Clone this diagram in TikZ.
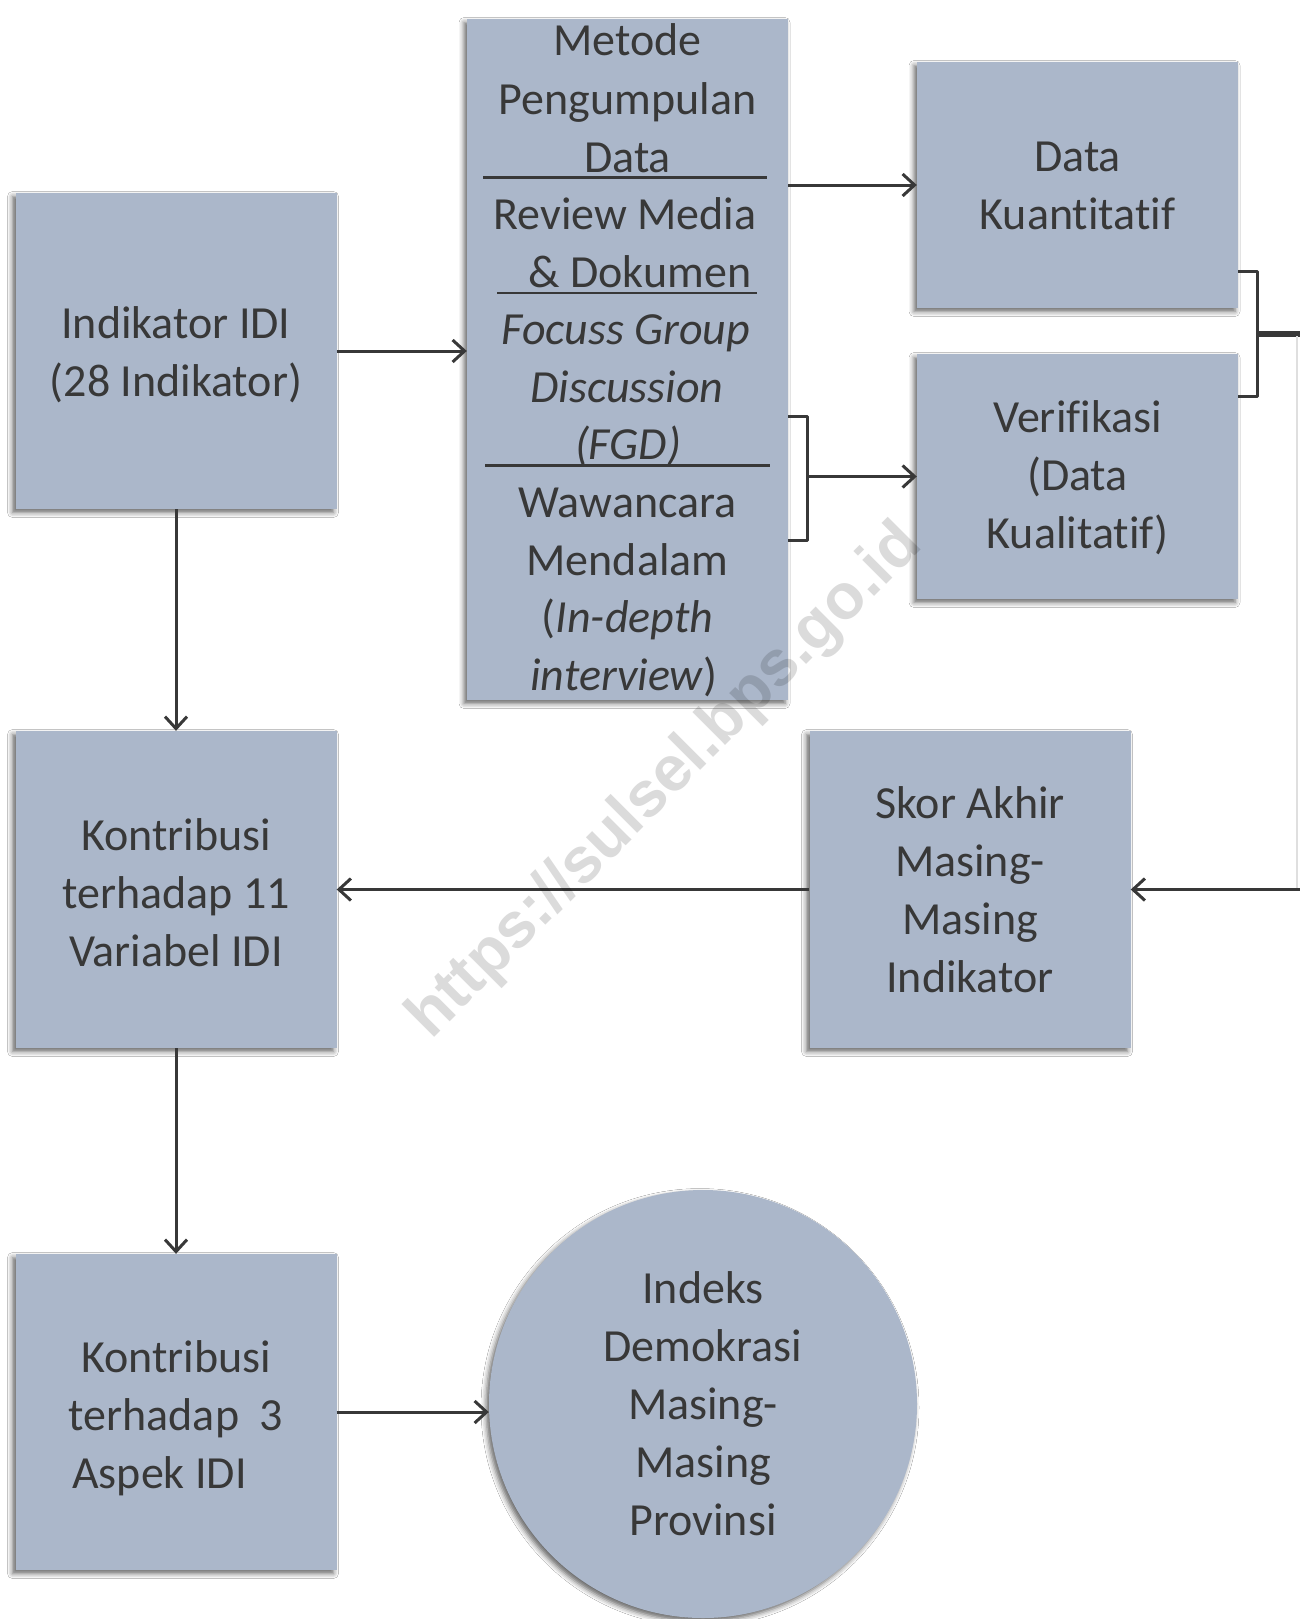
\documentclass[tikz,border=0pt]{standalone}
\usepackage{fontspec}
\setmainfont[Ligatures=NoCommon]{Carlito}
\newfontfamily\wmfont{Liberation Sans}
\usetikzlibrary{arrows.meta,shadows.blur}
\definecolor{boxfill}{HTML}{ABB7CA}
\definecolor{ink}{HTML}{383838}
\begin{document}
\begin{tikzpicture}[x=1pt,y=-1pt,
  shd/.style={blur shadow={shadow xshift=-3pt, shadow yshift=-3.5pt, shadow blur radius=5pt, shadow opacity=60}},
  box/.style={shd, fill=boxfill, draw=none, minimum width=321pt, inner sep=0pt,
    align=center, text=ink, font=\fontsize{46}{58}\selectfont},
  txt/.style={anchor=base, inner sep=0pt, text=ink, font=\fontsize{46}{58}\selectfont},
  lbl/.style={inner sep=0pt, align=center, text=ink, font=\fontsize{46}{58}\selectfont},
  conn/.style={draw=ink, line width=3pt, -{Straight Barb[length=12pt,width=22pt]}},
  plain/.style={draw=ink, line width=3pt},
  sep/.style={draw=ink, line width=2.5pt}]
\useasboundingbox[fill=white] (0,0) rectangle (1300,1619);

% boxes
\node[box, minimum height=316pt] (ind) at (176,351) {};
\node[box, minimum height=681pt] (met) at (627.5,359.5) {};
\node[box, minimum height=246pt] (dk) at (1077.5,185) {};
\node[box, minimum height=245pt] (ver) at (1077.5,476.5) {};
\node[box, minimum height=317pt] (skor) at (970,889.5) {};
\node[box, minimum height=317pt] (k11) at (176,889.5) {};
\node[box, minimum height=316pt] (k3) at (176,1412) {};
\node[shd, circle, fill=boxfill, minimum size=428pt, inner sep=0pt] (idx) at (703,1404) {};

% box labels
\node[lbl] (indt) at ([yshift=-4pt]ind.center) {Indikator IDI\\(28 Indikator)};
\node[lbl] (dkt) at ([yshift=-1pt]dk.center) {Data\\Kuantitatif};
\node[lbl] (vert) at ([yshift=-1pt]ver.center) {Verifikasi\\(Data\\Kualitatif)};
\node[lbl] (skort) at (skor.center) {Skor Akhir\\Masing-\\Masing\\Indikator};
\node[lbl] (k11t) at ([yshift=-3pt]k11.center) {Kontribusi\\terhadap 11\\Variabel IDI};
\node[lbl] (k3t) at ([yshift=-6pt]k3.center) {Kontribusi\\terhadap\ \ 3\\Aspek IDI\rule{33pt}{0pt}};
\node[lbl] (idxt) at (idx.center) {Indeks\\Demokrasi\\Masing-\\Masing\\Provinsi};

% text inside Metode box
\node[txt] (m1) at (627.5,56) {Metode};
\node[txt] (m2) at (627.5,114) {Pengumpulan};
\node[txt] (m3) at (627.5,172) {Data};
\node[txt] (m4) at (625,229) {Review Media};
\node[txt] (m5) at (640,287) {\& Dokumen};
\node[txt] (m6) at (626,344) {\itshape Focuss Group};
\node[txt] (m7) at (627,402) {\itshape Discussion};
\node[txt] (m8) at (628,459) {\itshape (FGD)};
\node[txt] (m9) at (627.5,517) {Wawancara};
\node[txt] (m10) at (627.5,575) {Mendalam};
\node[txt] (m11) at (627.5,632) {(\textit{In-depth}};
\node[txt] (m12) at (624,690) {\textit{interview})};

% separators
\draw[sep] (483,177.6) -- (767,177.6);
\draw[sep] (497,293) -- (757,293);
\draw[sep] (485,465.7) -- (770,465.7);

% connectors
\draw[conn] (ind.east) -- (met.west |- ind.east);
\draw[conn] (met.east |- dk.west) -- (dk.west);
\draw[conn] (ind.south) -- (k11.north);
\draw[conn] (k11.south) -- (k3.north);
\draw[conn] (k3.east) -- (k3.east -| idx.west);
\draw[conn] (skor.west) -- (skor.west -| k11.east);

% bracket next to Metode
\coordinate (b1t) at (807,416);
\coordinate (b1b) at (807,540);
\coordinate (b1m) at (807,476.5);
\draw[plain, line join=round] (met.east |- b1t) -- (b1t) -- (b1b) -- (met.east |- b1b);
\draw[conn] (b1m) -- (ver.west);

% bracket right of Data boxes
\coordinate (b2t) at (1257,271.5);
\coordinate (b2b) at (1257,396.5);
\coordinate (b2m) at (1257,333.5);
\coordinate (edge1) at (1300,333.5);
\coordinate (edge2) at (1300,889.5);
\draw[plain, line join=round] (dk.east |- b2t) -- (b2t) -- (b2b) -- (ver.east |- b2b);
\draw[draw=ink, line width=6pt] (b2m) -- (edge1);
\draw[draw=gray!25, line width=2pt] (1297,336) -- (1297,889.5);
\draw[conn] (edge2) -- (skor.east);

% watermark
\node[rotate=45, text=black, text opacity=0.14, inner sep=0pt,
  font=\wmfont\bfseries\fontsize{64}{70}\selectfont] (wm) at (666,782) {https://sulsel.bps.go.id};
\end{tikzpicture}
\end{document}
